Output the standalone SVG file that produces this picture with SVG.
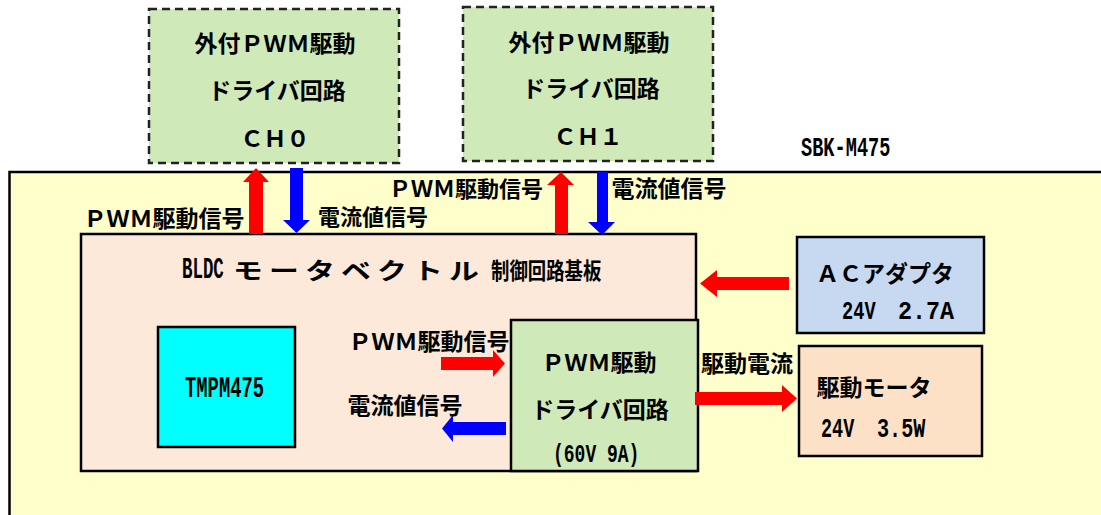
<svg xmlns="http://www.w3.org/2000/svg" width="1101" height="515" viewBox="0 0 1101 515">
<style>
text{font-family:"Noto Sans CJK JP","Noto Sans",sans-serif;font-weight:bold;fill:#000;}
.t22{font-size:23px;}
.mid{text-anchor:middle;}
.mono{font-family:"Liberation Mono","DejaVu Sans Mono",monospace;font-weight:bold;}
.box{stroke:#000;stroke-width:2.5;}
.dash{stroke:#222;stroke-width:2.5;stroke-dasharray:8 5;fill:#d0e9b8;}
.red{fill:#ff0000;}
.blue{fill:#0000ff;}
</style>
<rect width="1101" height="515" fill="#fff"/>
<g id="board">
<rect x="9.5" y="172" width="1100" height="360" fill="#ffffcc" class="box" stroke-width="3"/>
<text class="mono" font-size="27" transform="translate(801,156) scale(0.69,1)">SBK-M475</text>
</g>
<g id="ch0">
<rect x="149" y="9" width="250" height="154" class="dash"/>
<text class="t22 mid" x="275" y="52">外付ＰＷＭ駆動</text>
<text class="t22 mid" x="277" y="99">ドライバ回路</text>
<text class="t22 mid" x="275" y="147">ＣＨ０</text>
</g>
<g id="ch1">
<rect x="463" y="7" width="250" height="154" class="dash"/>
<text class="t22 mid" x="589" y="51">外付ＰＷＭ駆動</text>
<text class="t22 mid" x="591" y="97">ドライバ回路</text>
<text class="t22 mid" x="588" y="145">ＣＨ１</text>
</g>
<g id="bldc">
<rect x="81" y="234" width="615" height="237" fill="#fde9d9" class="box"/>
<text class="mono" font-size="30" transform="translate(182,278) scale(0.58,1)">BLDC</text>
<text x="0 27.7 55.4 83.1 110.8 138.5 166.2" y="0" font-size="23" transform="translate(233,279) scale(1.3,1)">モータベクトル</text>
<text font-size="23" transform="translate(491,279) scale(0.80,1)">制御回路基板</text>
</g>
<g id="tmpm475">
<rect x="158" y="327" width="137" height="120" fill="#00ffff" class="box"/>
<text class="mono" font-size="29" transform="translate(185,397) scale(0.65,1)">TMPM475</text>
</g>
<g id="driver">
<rect x="511" y="320" width="187" height="151" fill="#d0e9b8" class="box"/>
<text class="t22 mid" x="599" y="371">ＰＷＭ駆動</text>
<text class="t22 mid" x="600" y="418">ドライバ回路</text>
<text class="mono" font-size="25" transform="translate(553,462) scale(0.72,1)">(60V 9A)</text>
</g>
<g id="acadapter">
<rect x="797" y="237" width="187" height="96" fill="#c6d9f1" class="box"/>
<text class="t22 mid" x="885" y="282">ＡＣアダプタ</text>
<text class="mono" font-size="26" transform="translate(842,319) scale(0.72,1)">24V</text>
<text class="mono" font-size="26" transform="translate(898,319) scale(0.9,1)">2.7A</text>
</g>
<g id="motor">
<rect x="799" y="346" width="183" height="110" fill="#fde1c6" class="box"/>
<text class="t22 mid" x="874" y="396">駆動モータ</text>
<text class="mono" font-size="28" transform="translate(821,437) scale(0.66,1)">24V</text>
<text class="mono" font-size="28" transform="translate(877,437) scale(0.72,1)">3.5W</text>
</g>
<g id="connectors">
<polygon class="red" points="256,168 269,182 263,182 263,234 249,234 249,182 243,182"/>
<polygon class="blue" points="290,168 303,168 303,220 310,220 296.5,233 283,220 290,220"/>
<polygon class="red" points="561,172 574,185 568,185 568,234 555,234 555,185 547,185"/>
<polygon class="blue" points="597,172 608,172 608,222 615,222 602,235 588,222 597,222"/>
<polygon class="red" points="441,357 493,357 493,350 505,363.5 493,377 493,370 441,370"/>
<polygon class="blue" points="506,422 453,422 453,415 442,428.5 453,442 453,435 506,435"/>
<polygon class="red" points="789,277 717,277 717,270 700,283.5 717,297 717,290 789,290"/>
<polygon class="red" points="695,392 782,392 782,385 797,398.5 782,412 782,405 695,405"/>
<text class="t22 mid" x="164" y="227">ＰＷＭ駆動信号</text>
<text class="mid" font-size="22" x="373" y="225">電流値信号</text>
<text class="mid" font-size="22" x="466" y="197">ＰＷＭ駆動信号</text>
<text class="t22 mid" x="669" y="197">電流値信号</text>
<text class="t22 mid" x="429" y="350">ＰＷＭ駆動信号</text>
<text class="t22 mid" x="405" y="414">電流値信号</text>
<text class="t22 mid" x="747" y="372">駆動電流</text>
</g>
</svg>
